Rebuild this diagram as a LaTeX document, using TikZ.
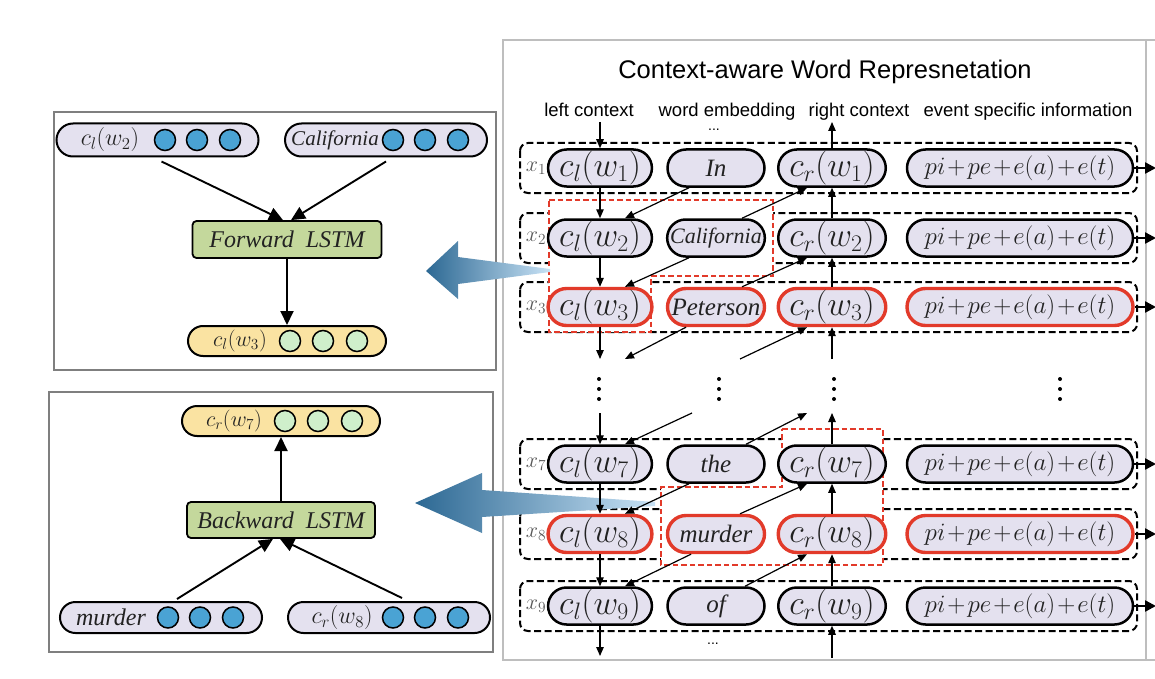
\RequirePackage{fix-cm}
\documentclass[tikz,border=0pt]{standalone}
\usepackage{fontspec}
\setmainfont{Liberation Serif}
\newfontfamily\hsans{Liberation Sans}
\usetikzlibrary{shapes.misc,arrows.meta,calc}
\definecolor{lav}{HTML}{E4E1EF}
\definecolor{myred}{HTML}{E23A2A}
\definecolor{cblue}{HTML}{4AA3D4}
\definecolor{cgreen}{HTML}{CFEFCB}
\definecolor{pyel}{HTML}{FAE3A2}
\definecolor{bgreen}{HTML}{C4D89C}
\definecolor{bord}{HTML}{BEBEBE}
\definecolor{pbord}{HTML}{7F7F7F}
\definecolor{arrA}{HTML}{2C6893}
\definecolor{arrB}{HTML}{C8E2F5}
\definecolor{txt}{HTML}{222222}
\newcommand\ctxfont{\fontsize{34}{36}\selectfont}
\newcommand\wrdfont{\itshape\fontsize{25}{27}\selectfont}
\newcommand\evtfont{\fontsize{25}{27}\selectfont\medmuskip=1.5mu}
\newcommand\lmfont{\fontsize{24}{26}\selectfont}
\newcommand\lstmfont{\itshape\fontsize{24}{26}\selectfont}
\newcommand\xfont{\fontsize{22}{24}\selectfont}
\newcommand\hdrfont{\hsans\fontsize{18.5}{20}\selectfont}
\tikzset{
 pill/.style={rounded rectangle, draw=black, line width=2.5pt, fill=lav, minimum height=37pt, inner sep=0pt, text=txt},
 redp/.style={draw=myred, line width=3.4pt},
 ctx/.style={pill, minimum width=99pt, font=\ctxfont},
 wrd/.style={pill, minimum width=97pt, font=\wrdfont},
 evt/.style={pill, minimum width=226pt, font=\evtfont},
 rowbox/.style={draw=black, line width=2pt, dash pattern=on 7pt off 3.5pt, rounded corners=8pt},
 redbox/.style={draw=myred, line width=1.7pt, dash pattern=on 5.5pt off 3pt, fill=white},
 sarr/.style={-{Triangle[length=9pt,width=7.5pt]}, line width=1.2pt},
 oarr/.style={-{Triangle[length=11pt,width=11pt]}, line width=2.4pt},
 barr/.style={-{Triangle[length=14pt,width=13pt]}, line width=1.9pt},
 panel/.style={draw=pbord, line width=1.5pt},
 lpill/.style={rounded rectangle, draw=black, line width=2pt, fill=lav, minimum height=33pt, minimum width=202pt, inner sep=0pt},
 ypill/.style={lpill, fill=pyel, minimum height=30pt, minimum width=198pt},
 lstm/.style={draw=black, line width=1.8pt, fill=bgreen, rounded corners=4pt, minimum width=189pt, minimum height=37pt, inner sep=0pt, font=\lstmfont, text=txt},
 bdot/.style={circle, draw=black, line width=1.5pt, fill=cblue, minimum size=21pt, inner sep=0pt},
 gdot/.style={bdot, fill=cgreen},
 ltxt/.style={inner sep=0pt, text=txt},
 xlab/.style={text=black!65, font=\xfont, inner sep=0pt},
 hdr/.style={font=\hdrfont, inner sep=0pt, anchor=base},
}
\begin{document}
\begin{tikzpicture}[x=1pt,y=-1pt]
\useasboundingbox (0,0) rectangle (1155,679);
% right panel frame
\draw[draw=bord, line width=2pt] (1160,40) -- (503,40) -- (503,660) -- (1160,660);
\draw[draw=bord, line width=2pt] (1146,40) -- (1146,660);
% left panels
\draw[panel] (54,112) rectangle (496,370);
\draw[panel] (49,392) rectangle (493,652);
% title and headers
\node[font=\hsans\fontsize{25.5}{27}\selectfont, inner sep=0pt] (title) at (825,72) {Context-aware Word Represnetation};
\node[hdr] (h1) at (589,117) {left context};
\node[hdr] (h2) at (727,117) {word embedding};
\node[hdr] (h3) at (859,117) {right context};
\node[hdr] (h4) at (1028,117) {event specific information};
\node[font=\hsans\fontsize{14}{14}\selectfont, inner sep=0pt] (dt1) at (714,130) {...};
\node[font=\hsans\fontsize{14}{14}\selectfont, inner sep=0pt] (dt2) at (713,644) {...};
% row boxes
\foreach \y in {168,238,307,464,534,606}
  \draw[rowbox] (520,\y-25) rectangle (1137,\y+25);
% red highlighted regions
\draw[redbox] (549,200) -- (773,200) -- (773,276) -- (651,276) -- (651,332) -- (549,332) -- cycle;
\draw[redbox] (782,429) -- (883,429) -- (883,565) -- (661,565) -- (661,487) -- (782,487) -- cycle;
% blue arrows
\shade[left color=arrA, right color=arrB] (426,271) -- (458,241) -- (458,257) -- (550,269) -- (550,272) -- (458,284) -- (458,299) -- cycle;
\shade[left color=arrA, right color=arrB] (415,503) -- (482,473) -- (482,490) -- (655,502) -- (655,506) -- (482,517) -- (482,533) -- cycle;
% rows
\node[xlab] (x1) at (536,168) {$x_1$};
\node[ctx] (cl1) at (600,168) {$c_l(w_1)$};
\node[wrd] (w1) at (716,168) {In};
\node[ctx] (cr1) at (832,168) {$c_r(w_1)$};
\node[evt] (ev1) at (1020,168) {$pi+pe+e(a)+e(t)$};
\node[xlab] (x2) at (536,238) {$x_2$};
\node[ctx] (cl2) at (600,238) {$c_l(w_2)$};
\node[wrd, font=\itshape\fontsize{22}{24}\selectfont] (w2) at (716,238) {California};
\node[ctx] (cr2) at (832,238) {$c_r(w_2)$};
\node[evt] (ev2) at (1020,238) {$pi+pe+e(a)+e(t)$};
\node[xlab] (x3) at (536,307) {$x_3$};
\node[ctx, redp] (cl3) at (600,307) {$c_l(w_3)$};
\node[wrd, redp] (w3) at (716,307) {Peterson};
\node[ctx, redp] (cr3) at (832,307) {$c_r(w_3)$};
\node[evt, redp] (ev3) at (1020,307) {$pi+pe+e(a)+e(t)$};
\node[xlab] (x7) at (536,464) {$x_7$};
\node[ctx] (cl7) at (600,464) {$c_l(w_7)$};
\node[wrd] (w7) at (716,464) {the};
\node[ctx] (cr7) at (832,464) {$c_r(w_7)$};
\node[evt] (ev7) at (1020,464) {$pi+pe+e(a)+e(t)$};
\node[xlab] (x8) at (536,534) {$x_8$};
\node[ctx, redp] (cl8) at (600,534) {$c_l(w_8)$};
\node[wrd, redp] (w8) at (716,534) {murder};
\node[ctx, redp] (cr8) at (832,534) {$c_r(w_8)$};
\node[evt, redp] (ev8) at (1020,534) {$pi+pe+e(a)+e(t)$};
\node[xlab] (x9) at (536,606) {$x_9$};
\node[ctx] (cl9) at (600,606) {$c_l(w_9)$};
\node[wrd] (w9) at (716,606) {of};
\node[ctx] (cr9) at (832,606) {$c_r(w_9)$};
\node[evt] (ev9) at (1020,606) {$pi+pe+e(a)+e(t)$};
% vertical dots
\foreach \x in {599,719,834,1060}
  \foreach \y in {379,389,399}
    \fill (\x,\y) circle (2);
% free ends
\coordinate (ltop) at (600,122);
\coordinate (rtop) at (832,122);
\coordinate (lmid1) at (600,359);
\coordinate (dmid1) at (625,359);
\coordinate (umid1) at (740,359);
\coordinate (rmid1) at (832,359);
\coordinate (lmid2) at (600,413);
\coordinate (dmid2) at (692,413);
\coordinate (umid2) at (807,413);
\coordinate (rmid2) at (832,413);
\coordinate (lbot) at (600,656);
\coordinate (rbot) at (832,658);
% left-context chain
\draw[sarr] (ltop) -- (cl1.north);
\draw[sarr] (cl1.south) -- (cl2.north);
\draw[sarr] (cl2.south) -- (cl3.north);
\draw[sarr] (cl3.south) -- (lmid1);
\draw[sarr] (lmid2) -- (cl7.north);
\draw[sarr] (cl7.south) -- (cl8.north);
\draw[sarr] (cl8.south) -- (cl9.north);
\draw[sarr] (cl9.south) -- (lbot);
% right-context chain
\draw[sarr] (cr1.north) -- (rtop);
\draw[sarr] (cr2.north) -- (cr1.south);
\draw[sarr] (cr3.north) -- (cr2.south);
\draw[sarr] (rmid1) -- (cr3.south);
\draw[sarr] (cr7.north) -- (rmid2);
\draw[sarr] (cr8.north) -- (cr7.south);
\draw[sarr] (cr9.north) -- (cr8.south);
\draw[sarr] (rbot) -- (cr9.south);
% word -> next left context
\draw[sarr] ($(w1.south)+(-27,0)$) -- ($(cl2.north)+(25,0)$);
\draw[sarr] ($(w2.south)+(-27,0)$) -- ($(cl3.north)+(25,0)$);
\draw[sarr] ($(w3.south)+(-30,0)$) -- (dmid1);
\draw[sarr] (dmid2) -- ($(cl7.north)+(25,0)$);
\draw[sarr] ($(w7.south)+(-27,0)$) -- ($(cl8.north)+(25,0)$);
\draw[sarr] ($(w8.south)+(-25,0)$) -- ($(cl9.north)+(25,0)$);
% word -> previous right context
\draw[sarr] ($(w2.north)+(26,0)$) -- ($(cr1.south)+(-25,0)$);
\draw[sarr] ($(w3.north)+(26,0)$) -- ($(cr2.south)+(-25,0)$);
\draw[sarr] (umid1) -- ($(cr3.south)+(-25,0)$);
\draw[sarr] ($(w7.north)+(30,0)$) -- (umid2);
\draw[sarr] ($(w8.north)+(24,0)$) -- ($(cr7.south)+(-25,0)$);
\draw[sarr] ($(w9.north)+(29,0)$) -- ($(cr8.south)+(-25,0)$);
% outputs to the right
\foreach \r/\y in {1/168,2/238,3/307,7/464,8/534,9/606}{
  \coordinate (o\r) at (1156,\y);
  \draw[oarr] (ev\r.east) -- (o\r);
}
% ===== top-left panel: forward LSTM
\node[lpill] (pa) at (157.5,140) {};
\node[ltxt, font=\lmfont] (pat) at (110,140) {$c_l(w_2)$};
\node[bdot] (pa1) at (165,140) {};
\node[bdot] (pa2) at (197,140) {};
\node[bdot] (pa3) at (230,140) {};
\node[lpill] (pb) at (386,140) {};
\node[ltxt, font=\itshape\fontsize{21}{23}\selectfont] (pbt) at (335,140) {California};
\node[bdot] (pb1) at (393,140) {};
\node[bdot] (pb2) at (425,140) {};
\node[bdot] (pb3) at (458,140) {};
\node[lstm] (fw) at (287,239.5) {Forward\ \ LSTM};
\node[ypill] (po) at (287,341) {};
\node[ltxt, font=\fontsize{22}{24}\selectfont] (pot) at (240,341) {$c_l(w_3)$};
\node[gdot] (po1) at (290,341) {};
\node[gdot] (po2) at (323,341) {};
\node[gdot] (po3) at (357,341) {};
\draw[barr] ($(pa.south)+(4,4)$) -- ($(fw.north)+(-4,0)$);
\draw[barr] ($(pb.south)+(0,4)$) -- ($(fw.north)+(4,0)$);
\draw[barr] (fw.south) -- (po.north);
% ===== bottom-left panel: backward LSTM
\node[ypill] (qo) at (281,421) {};
\node[ltxt, font=\fontsize{22}{24}\selectfont] (qot) at (234,421) {$c_r(w_7)$};
\node[gdot] (qo1) at (285,421) {};
\node[gdot] (qo2) at (318,421) {};
\node[gdot] (qo3) at (352,421) {};
\node[lstm, minimum width=188pt, minimum height=36pt] (bw) at (281,520) {Backward\ \ LSTM};
\node[lpill, minimum height=31pt] (qa) at (161,617.5) {};
\node[ltxt, font=\itshape\fontsize{24}{26}\selectfont] (qat) at (111,617.5) {murder};
\node[bdot] (qa1) at (168,617.5) {};
\node[bdot] (qa2) at (200,617.5) {};
\node[bdot] (qa3) at (233,617.5) {};
\node[lpill, minimum height=31pt] (qb) at (389,617.5) {};
\node[ltxt, font=\lmfont] (qbt) at (342,617.5) {$c_r(w_8)$};
\node[bdot] (qb1) at (393,617.5) {};
\node[bdot] (qb2) at (425,617.5) {};
\node[bdot] (qb3) at (458,617.5) {};
\draw[barr] ($(qa.north)+(16,-2)$) -- ($(bw.south)+(-8,0)$);
\draw[barr] ($(qb.north)+(13,-3)$) -- ($(bw.south)+(-1,0)$);
\draw[barr] (bw.north) -- (qo.south);
\end{tikzpicture}
\end{document}
